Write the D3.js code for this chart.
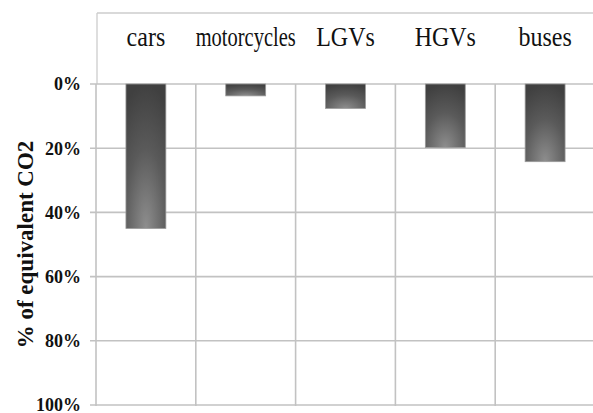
<!DOCTYPE html>
<html>
<head>
<meta charset="utf-8">
<script src="https://cdn.jsdelivr.net/npm/d3@7"></script>
<style>
  html, body { margin: 0; padding: 0; background: #fff; }
  svg { display: block; }
  text { font-family: "Liberation Serif", "Times New Roman", Tinos, "DejaVu Serif", serif; }
</style>
</head>
<body>
<svg id="chart" width="593" height="413"></svg>
<script>
const categories = ["cars", "motorcycles", "LGVs", "HGVs", "buses"];
const values = [45, 3.7, 7.6, 19.8, 24.2];
const tickValues = [0, 20, 40, 60, 80, 100];
const tickLabels = ["0%", "20%", "40%", "60%", "80%", "100%"];
const yTitle = "% of equivalent CO2";

(function() {
const svg = d3.select("#chart");
const W = 593, H = 413;
const mLeft = 96, mRight = 595, mTop = 84, mBottom = 405, headerTop = 13;

const x = d3.scaleBand().domain(categories).range([mLeft, mRight]).paddingInner(0.6).paddingOuter(0.3);
const y = d3.scaleLinear().domain([0, 100]).range([mTop, mBottom]);
const step = x.step();

const defs = svg.append("defs");
const grad = defs.append("radialGradient").attr("id", "barGrad")
  .attr("cx", "50%").attr("cy", "100%").attr("r", "100%").attr("fx", "50%").attr("fy", "100%");
grad.append("stop").attr("offset", "0%").attr("stop-color", "#8e8e8e");
grad.append("stop").attr("offset", "55%").attr("stop-color", "#5a5a5a");
grad.append("stop").attr("offset", "100%").attr("stop-color", "#404040");

const gridColor = "#c2c2c2";

// header box
svg.append("line").attr("x1", mLeft + 1).attr("x2", W).attr("y1", headerTop).attr("y2", headerTop)
  .attr("stroke", "#cccccc").attr("stroke-width", 1.3);
svg.append("line").attr("x1", mLeft + 1).attr("x2", mLeft + 1).attr("y1", headerTop).attr("y2", mTop)
  .attr("stroke", "#cccccc").attr("stroke-width", 1.3);

// horizontal gridlines
svg.append("g").selectAll("line").data(tickValues).join("line")
  .attr("x1", mLeft - 6).attr("x2", W)
  .attr("y1", d => y(d)).attr("y2", d => y(d))
  .attr("stroke", gridColor).attr("stroke-width", 1.6);

// vertical gridlines (category boundaries)
const bounds = categories.map(c => x(c) - step * x.paddingOuter()).concat([x(categories[categories.length - 1]) - step * x.paddingOuter() + step]);
svg.append("g").selectAll("line").data(bounds).join("line")
  .attr("x1", d => d).attr("x2", d => d)
  .attr("y1", mTop).attr("y2", mBottom + 1)
  .attr("stroke", gridColor).attr("stroke-width", 1.6);

// bars
svg.append("g").selectAll("rect").data(categories).join("rect")
  .attr("x", d => x(d))
  .attr("y", y(0))
  .attr("width", x.bandwidth())
  .attr("height", (d, i) => y(values[i]) - y(0))
  .attr("fill", "url(#barGrad)")
  .attr("stroke", "#9a9a9a").attr("stroke-width", 0.8);

// category labels in header
svg.append("g").selectAll("text").data(categories).join("text")
  .attr("text-anchor", "middle")
  .attr("font-size", 24)
  .attr("fill", "#111")
  .attr("transform", d => `translate(${x(d) + x.bandwidth() / 2},45.5) scale(1,1.15)`)
  .each(function(d) { if (d === "motorcycles") d3.select(this).attr("textLength", 100).attr("lengthAdjust", "spacingAndGlyphs"); })
  .text(d => d);

// y tick labels
svg.append("g").selectAll("text").data(tickValues).join("text")
  .attr("x", 81).attr("y", d => y(d))
  .attr("dy", "0.35em")
  .attr("text-anchor", "end")
  .attr("font-weight", "bold")
  .attr("font-size", 18)
  .attr("fill", "#111")
  .text((d, i) => tickLabels[i]);

// y title
svg.append("text")
  .attr("transform", `translate(25,${(mTop + mBottom) / 2}) rotate(-90)`)
  .attr("text-anchor", "middle")
  .attr("dy", "0.35em")
  .attr("font-weight", "bold")
  .attr("font-size", 23)
  .attr("fill", "#111")
  .text(yTitle);
})();
</script>
</body>
</html>
